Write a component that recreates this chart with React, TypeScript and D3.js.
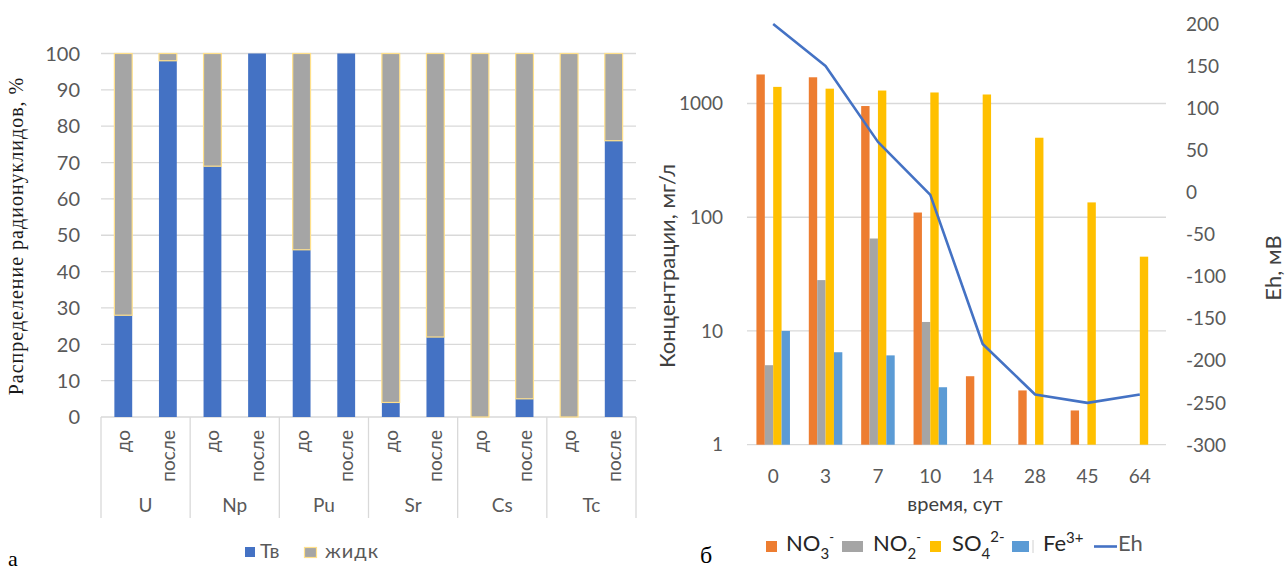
import React from "react";
import * as d3 from "d3";

// Panel (а): distribution of radionuclides between solid and liquid phase
const elements = ["U", "Np", "Pu", "Sr", "Cs", "Tc"];
const stages = ["до", "после"];
const solidShare = [28, 98, 69, 100, 46, 100, 4, 22, 0, 5, 0, 76]; // Тв, %
const liquidShare = [72, 2, 31, 0, 54, 0, 96, 78, 100, 95, 100, 24]; // жидк, %
const shareTicks = [0, 10, 20, 30, 40, 50, 60, 70, 80, 90, 100];

// Panel (б): anion / iron concentrations and Eh over time
const days = ["0", "3", "7", "10", "14", "28", "45", "64"];
const nitrate = [1800, 1700, 950, 110, 4, 3, 2, null];
const nitrite = [5, 28, 65, 12, null, null, null, null];
const sulfate = [1400, 1350, 1300, 1250, 1200, 500, 135, 45];
const ferric = [10, 6.5, 6.1, 3.2, null, null, null, null];
const ehValues = [200, 150, 60, -3, -180, -240, -250, -240];
const concTicks = [1, 10, 100, 1000];
const ehTicks = [200, 150, 100, 50, 0, -50, -100, -150, -200, -250, -300];

const SANS = "Lato, 'Liberation Sans', sans-serif";
const SERIF = "'Liberation Serif', 'Times New Roman', serif";
const TICK = "#595959";
const GRID = "#D9D9D9";

const C_SOLID = "#4472C4";
const C_LIQ = "#A5A5A5";
const C_LIQ_EDGE = "#FFE08A";
const C_NO3 = "#ED7D31";
const C_NO2 = "#A5A5A5";
const C_SO4 = "#FFC000";
const C_FE = "#5B9BD5";
const C_EH = "#4472C4";

function LeftPanel() {
  const leaves = elements.flatMap((el) => stages.map((st) => `${el}|${st}`));
  const rows = leaves.map((k, i) => ({ key: k, solid: solidShare[i], liquid: liquidShare[i] }));
  const x = d3.scaleBand<string>().domain(leaves).range([101, 636]).paddingInner(0.6).paddingOuter(0.3);
  const y = d3.scaleLinear().domain([0, 100]).range([417, 53.5]);
  const stack = d3.stack<any>().keys(["solid", "liquid"])(rows);
  const groupW = (636 - 101) / elements.length;

  return (
    <g>
      {shareTicks.map((t) => (
        <g key={t}>
          <line x1={101} x2={636} y1={y(t)} y2={y(t)} stroke={GRID} strokeWidth={1.3} />
          <text x={80} y={y(t)} dy="0.36em" textAnchor="end" fontSize={20} fill={TICK} fontFamily={SANS}>
            {t}
          </text>
        </g>
      ))}
      {stack.map((layer) => (
        <g key={layer.key}>
          {layer.map((d, i) => {
            const h = y(d[0]) - y(d[1]);
            if (h <= 0) return null;
            const liquid = layer.key === "liquid";
            return (
              <rect
                key={i}
                x={x(leaves[i])!}
                y={y(d[1])}
                width={x.bandwidth()}
                height={h}
                fill={liquid ? C_LIQ : C_SOLID}
                stroke={liquid ? C_LIQ_EDGE : "none"}
                strokeWidth={1.2}
              />
            );
          })}
        </g>
      ))}
      {/* multi-level category axis */}
      {d3.range(elements.length + 1).map((i) => (
        <line key={i} x1={101 + i * groupW} x2={101 + i * groupW} y1={417} y2={518} stroke={GRID} strokeWidth={1.3} />
      ))}
      {leaves.map((k) => {
        const cx = x(k)! + x.bandwidth() / 2;
        return (
          <text
            key={k}
            transform={`translate(${cx + 7},430) rotate(-90)`}
            textAnchor="end"
            fontSize={19}
            fill={TICK}
            fontFamily={SANS}
          >
            {k.split("|")[1]}
          </text>
        );
      })}
      {elements.map((el, i) => (
        <text key={el} x={101 + (i + 0.5) * groupW} y={512} textAnchor="middle" fontSize={19} fill={TICK} fontFamily={SANS}>
          {el}
        </text>
      ))}
      <text
        transform="translate(23,236) rotate(-90)"
        textAnchor="middle"
        fontSize={20}
        letterSpacing={1}
        fill="#1a1a1a"
        fontFamily={SERIF}
      >
        Распределение радионуклидов, %
      </text>
      {/* legend */}
      <rect x={245} y={547} width={10} height={10} fill={C_SOLID} />
      <text x={260} y={558} fontSize={20} fill={TICK} fontFamily={SANS}>Тв</text>
      <rect x={304.5} y={547.5} width={12} height={10} fill={C_LIQ} stroke={C_LIQ_EDGE} strokeWidth={1.2} />
      <text x={325} y={558} fontSize={20} letterSpacing={1} fill={TICK} fontFamily={SANS}>жидк</text>
      <text x={8} y={566} fontSize={22} fill="#000" fontFamily={SERIF}>а</text>
    </g>
  );
}

function RightPanel() {
  const x0 = d3.scaleBand<string>().domain(days).range([747, 1166]).paddingInner(0.36).paddingOuter(0.18);
  const series = [
    { key: "no3", values: nitrate, color: C_NO3 },
    { key: "no2", values: nitrite, color: C_NO2 },
    { key: "so4", values: sulfate, color: C_SO4 },
    { key: "fe", values: ferric, color: C_FE },
  ];
  const x1 = d3.scaleBand<string>().domain(series.map((s) => s.key)).range([0, x0.bandwidth()]);
  const yLog = d3.scaleLog().domain([1, 5000]).range([444.7, 24]);
  const yEh = d3.scaleLinear().domain([-300, 200]).range([445, 24]);
  const line = d3
    .line<number>()
    .x((_, i) => x0(days[i])! + x0.bandwidth() / 2)
    .y((v) => yEh(v));

  return (
    <g>
      {concTicks.map((t) => (
        <g key={t}>
          <line x1={747} x2={1166} y1={yLog(t)} y2={yLog(t)} stroke={GRID} strokeWidth={1.3} />
          <text x={723} y={yLog(t)} dy="0.35em" textAnchor="end" fontSize={19} fill={TICK} fontFamily={SANS}>
            {t}
          </text>
        </g>
      ))}
      {ehTicks.map((t) => (
        <text key={t} x={1186} y={yEh(t)} dy="0.35em" textAnchor="start" fontSize={19} fill={TICK} fontFamily={SANS}>
          {t}
        </text>
      ))}
      {series.map((s) => (
        <g key={s.key}>
          {s.values.map((v, i) =>
            v == null ? null : (
              <rect
                key={i}
                x={x0(days[i])! + x1(s.key)!}
                y={yLog(v)}
                width={x1.bandwidth()}
                height={yLog(1) - yLog(v)}
                fill={s.color}
              />
            )
          )}
        </g>
      ))}
      <path d={line(ehValues) ?? ""} fill="none" stroke={C_EH} strokeWidth={2.6} strokeLinejoin="round" />
      {days.map((d) => (
        <text key={d} x={x0(d)! + x0.bandwidth() / 2} y={483} textAnchor="middle" fontSize={19} fill={TICK} fontFamily={SANS}>
          {d}
        </text>
      ))}
      <text x={955} y={511} textAnchor="middle" fontSize={20} fill="#404040" fontFamily={SANS}>
        время, сут
      </text>
      <text transform="translate(675,266) rotate(-90)" textAnchor="middle" fontSize={22} fill="#404040" fontFamily={SANS}>
        Концентрации, мг/л
      </text>
      <text transform="translate(1281,268) rotate(-90)" textAnchor="middle" fontSize={22} fill="#404040" fontFamily={SANS}>
        Eh, мВ
      </text>
      {/* legend */}
      <g fontFamily={SANS} fill="#262626">
        <rect x={766} y={541} width={11} height={11} fill={C_NO3} />
        <text x={786} y={551} fontSize={22}>
          NO<tspan dy={8} fontSize={15}>3</tspan>
          <tspan dy={-17} fontSize={13}>-</tspan>
        </text>
        <rect x={842} y={541} width={21} height={11} fill={C_NO2} />
        <text x={873} y={551} fontSize={22}>
          NO<tspan dy={8} fontSize={15}>2</tspan>
          <tspan dy={-17} fontSize={13}>-</tspan>
        </text>
        <rect x={930} y={541} width={11} height={11} fill={C_SO4} />
        <text x={952} y={551} fontSize={22}>
          SO<tspan dy={8} fontSize={15}>4</tspan>
          <tspan dy={-17} fontSize={15}>2-</tspan>
        </text>
        <rect x={1012} y={541} width={17} height={11} fill={C_FE} />
        <line x1={1033} x2={1033} y1={540} y2={553} stroke="#d0d0d0" strokeWidth={1} />
        <text x={1043} y={551} fontSize={22}>
          Fe<tspan dy={-8} fontSize={15}>3+</tspan>
        </text>
        <line x1={1094} x2={1117} y1={546.5} y2={546.5} stroke={C_EH} strokeWidth={2.6} />
        <text x={1118} y={551} fontSize={22} fill={TICK}>Eh</text>
      </g>
      <text x={700} y={563} fontSize={24} fill="#000" fontFamily={SERIF}>б</text>
    </g>
  );
}

export default function App() {
  return (
    <svg
      width={1285}
      height={571}
      viewBox="0 0 1285 571"
      style={{ position: "fixed", left: 0, top: 0, background: "#fff" }}
    >
      <rect width={1285} height={571} fill="#fff" />
      <LeftPanel />
      <RightPanel />
    </svg>
  );
}
